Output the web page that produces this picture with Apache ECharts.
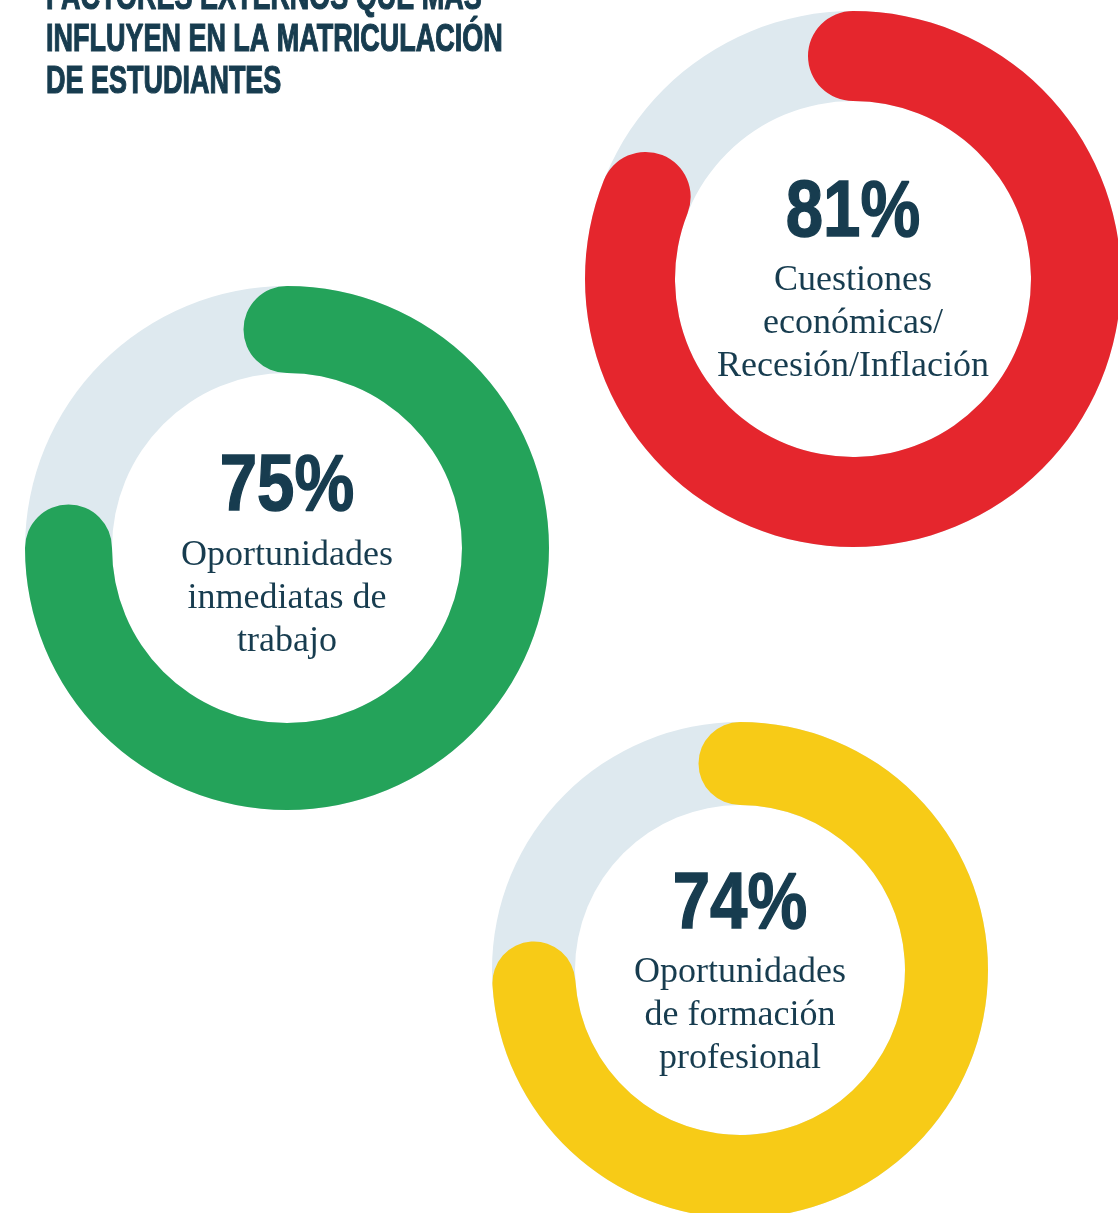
<!DOCTYPE html>
<html>
<head>
<meta charset="utf-8">
<script src="https://cdn.jsdelivr.net/npm/echarts@6/dist/echarts.min.js"></script>
<style>
html,body{margin:0;padding:0;background:#ffffff;}
#chart{width:1118px;height:1213px;}
</style>
</head>
<body>
<div id="chart"></div>
<script>
// ---- data ----
const titleLines = ['FACTORES EXTERNOS QUE MÁS', 'INFLUYEN EN LA MATRICULACIÓN', 'DE ESTUDIANTES'];
const factorNames = [
  'Cuestiones\neconómicas/\nRecesión/Inflación',
  'Oportunidades\ninmediatas de\ntrabajo',
  'Oportunidades\nde formación\nprofesional'
];
const factorValues = [81, 75, 74];
const factorColors = ['#e5262d', '#24a35a', '#f7cb17'];

// ---- layout (not data) ----
const layout = [
  {center: [853, 279], radius: 268, width: 90, detailY: -65, titleY: 45},
  {center: [287, 548], radius: 262, width: 87, detailY: -60, titleY: 51},
  {center: [740, 970], radius: 248, width: 83, detailY: -64, titleY: 46}
];
const textColor = '#173c4f';
const trackColor = '#dee9ef';
const boldFont = '"Liberation Sans", Arial, sans-serif';

const chart = echarts.init(document.getElementById('chart'), null, {renderer: 'canvas'});

const series = factorValues.map((v, i) => ({
  type: 'gauge',
  center: layout[i].center,
  radius: layout[i].radius,
  startAngle: 90,
  endAngle: -270,
  min: 0,
  max: 100,
  clockwise: true,
  pointer: {show: false},
  anchor: {show: false},
  progress: {show: true, roundCap: true, width: layout[i].width, itemStyle: {color: factorColors[i]}},
  axisLine: {lineStyle: {width: layout[i].width, color: [[1, trackColor]]}},
  splitLine: {show: false},
  axisTick: {show: false},
  axisLabel: {show: false},
  title: {
    offsetCenter: [0, layout[i].titleY],
    fontFamily: '"Liberation Serif", serif',
    fontSize: 36,
    lineHeight: 43,
    color: textColor
  },
  detail: {show: false},
  animation: false,
  data: [{value: v, name: factorNames[i]}]
}));

const titleY = [-1, 41, 83];
const graphic = titleLines.map((t, i) => ({
  type: 'text',
  x: 46,
  y: titleY[i],
  scaleX: 0.71,
  style: {
    text: t,
    font: 'bold 38px ' + boldFont,
    fill: textColor,
    stroke: textColor,
    lineWidth: 1.2,
    align: 'left',
    verticalAlign: 'middle'
  }
}));

// condensed percentage labels, text taken from the data values
factorValues.forEach((v, i) => {
  graphic.push({
    type: 'text',
    x: layout[i].center[0],
    y: layout[i].center[1] + layout[i].detailY,
    scaleX: 0.84,
    style: {
      text: v + '%',
      font: 'bold 80px ' + boldFont,
      fill: textColor,
      stroke: textColor,
      lineWidth: 1.5,
      align: 'center',
      verticalAlign: 'middle'
    },
    z: 10
  });
});

chart.setOption({
  backgroundColor: '#ffffff',
  animation: false,
  graphic: graphic,
  series: series
});
</script>
</body>
</html>
